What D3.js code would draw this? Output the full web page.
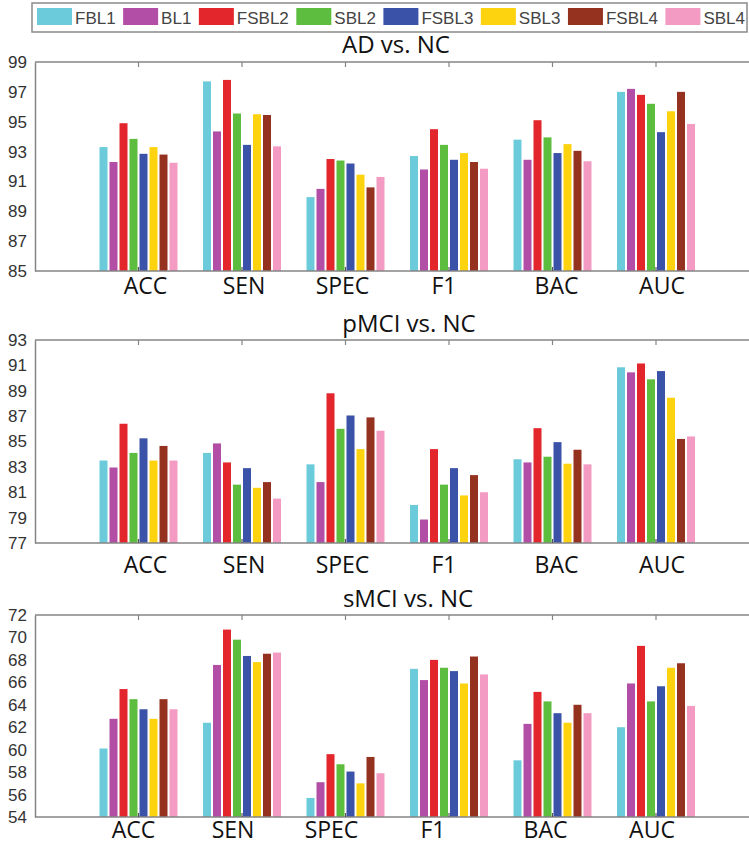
<!DOCTYPE html>
<meta charset="utf-8">
<script src="https://d3js.org/d3.v7.min.js"></script>
<style>
  body { margin: 0; background: #fff; }
  svg { display: block; }
  .ytick text { font-family: "Liberation Sans", Arial, sans-serif; font-size: 17px; fill: #333; }
  .cat { font-family: "Open Sans", sans-serif; font-size: 23px; fill: #111; text-anchor: middle; }
  .title { font-family: "Open Sans", sans-serif; font-size: 24px; fill: #111; text-anchor: middle; }
  .leg text { font-family: "Liberation Sans", Arial, sans-serif; font-size: 17px; fill: #444; }
</style>
<body>
<div id="chart"></div>
<script>
// metrics on the x axis and the eight methods (series)
var metrics = ["ACC", "SEN", "SPEC", "F1", "BAC", "AUC"];
var methods = ["FBL1", "BL1", "FSBL2", "SBL2", "FSBL3", "SBL3", "FSBL4", "SBL4"];
var colours = ["#6ccbdb", "#b24ea6", "#e2262b", "#5dbd3f", "#3a52a8", "#fdd30f", "#95311f", "#f39bc2"];

// values[metric][method]
var adVsNc = [
  [93.3, 92.3, 94.9, 93.85, 92.85, 93.3, 92.8, 92.25],
  [97.7, 94.35, 97.8, 95.55, 93.45, 95.5, 95.45, 93.35],
  [89.95, 90.5, 92.5, 92.4, 92.2, 91.45, 90.6, 91.3],
  [92.7, 91.8, 94.5, 93.45, 92.45, 92.9, 92.3, 91.85],
  [93.8, 92.45, 95.1, 93.95, 92.9, 93.5, 93.05, 92.35],
  [97.0, 97.2, 96.8, 96.2, 94.3, 95.7, 97.0, 94.85]
];
var pmciVsNc = [
  [83.5, 82.95, 86.4, 84.1, 85.25, 83.5, 84.65, 83.5],
  [84.1, 84.85, 83.35, 81.6, 82.9, 81.35, 81.8, 80.5],
  [83.2, 81.8, 88.8, 86.0, 87.05, 84.4, 86.9, 85.85],
  [80.0, 78.85, 84.4, 81.6, 82.9, 80.75, 82.35, 81.0],
  [83.6, 83.35, 86.05, 83.8, 84.95, 83.25, 84.35, 83.2],
  [90.85, 90.45, 91.15, 89.9, 90.55, 88.45, 85.2, 85.4]
];
var smciVsNc = [
  [60.1, 62.75, 65.4, 64.5, 63.6, 62.75, 64.5, 63.6],
  [62.4, 67.55, 70.7, 69.8, 68.35, 67.8, 68.55, 68.65],
  [55.7, 57.1, 59.6, 58.7, 58.05, 57.0, 59.35, 57.9],
  [67.2, 66.2, 68.0, 67.3, 67.0, 65.9, 68.3, 66.7],
  [59.05, 62.3, 65.15, 64.3, 63.25, 62.4, 64.0, 63.25],
  [62.0, 65.9, 69.25, 64.3, 65.65, 67.3, 67.7, 63.9]
];

var panelTitles = ["AD vs. NC", "pMCI vs. NC", "sMCI vs. NC"];
var panelData = [adVsNc, pmciVsNc, smciVsNc];
var yDomains = [[85, 99], [77, 93], [54, 72]];

// layout
var W = 749, H = 845;
var panels = [
  {top: 62, bottom: 271, titleX: 396, titleY: 53, labY: 294, labShift: [7, 2, -3, -5, 4, 6]},
  {top: 340, bottom: 543, titleX: 409, titleY: 332, labY: 573, labShift: [7, 2, -3, -5, 4, 6]},
  {top: 615, bottom: 817, titleX: 408, titleY: 607, labY: 838, labShift: [-5, -9, -14, -16, -7, -4]}
];
var axisCol = "#858585";

var svg = d3.select("#chart").append("svg")
    .attr("width", W)
    .attr("height", H);

// x positions: metrics sit at 1..6 on a 0..7 axis (right end runs off the image)
var x = d3.scaleLinear().domain([0, 7]).range([35, 759.5]);
var xs = d3.scaleBand().domain(methods).range([-40, 40]).paddingInner(0.2).paddingOuter(0.1);

panels.forEach(function(p, pi) {
  var y = d3.scaleLinear().domain(yDomains[pi]).range([p.bottom, p.top]);
  var g = svg.append("g");

  // bars
  var groups = g.selectAll("g.grp")
    .data(panelData[pi])
    .join("g")
      .attr("class", "grp")
      .attr("transform", (d, i) => "translate(" + x(i + 1) + ",0)");

  groups.selectAll("rect")
    .data(d => d.map((v, j) => ({v: v, m: methods[j], c: colours[j]})))
    .join("rect")
      .attr("x", d => xs(d.m))
      .attr("width", xs.bandwidth())
      .attr("y", d => y(d.v))
      .attr("height", d => y(yDomains[pi][0]) - y(d.v))
      .attr("fill", d => d.c);

  // frame lines
  g.append("line").attr("x1", x(0)).attr("x2", W).attr("y1", p.top).attr("y2", p.top)
    .attr("stroke", axisCol).attr("stroke-width", 1.5);
  g.append("line").attr("x1", x(0)).attr("x2", W).attr("y1", p.bottom).attr("y2", p.bottom)
    .attr("stroke", axisCol).attr("stroke-width", 1.5);

  // y axis
  var yTicks = d3.range(yDomains[pi][0], yDomains[pi][1] + 1, 2);
  var ya = g.append("g")
      .attr("transform", "translate(" + x(0) + ",0)")
      .call(d3.axisLeft(y).tickValues(yTicks).tickSize(0).tickPadding(8));
  ya.select(".domain").attr("stroke", axisCol).attr("stroke-width", 1.5);
  ya.selectAll(".tick").attr("class", "ytick");

  // inward category ticks on top and bottom
  var ticks = d3.range(1, 7);
  g.selectAll("line.tt").data(ticks).join("line")
    .attr("class", "tt")
    .attr("x1", d => x(d)).attr("x2", d => x(d))
    .attr("y1", p.top).attr("y2", p.top + 5)
    .attr("stroke", axisCol).attr("stroke-width", 1.2);
  g.selectAll("line.bt").data(ticks).join("line")
    .attr("class", "bt")
    .attr("x1", d => x(d)).attr("x2", d => x(d))
    .attr("y1", p.bottom).attr("y2", p.bottom - 4)
    .attr("stroke", "#555").attr("stroke-width", 1.2);

  // category labels
  g.selectAll("text.cat").data(metrics).join("text")
    .attr("class", "cat")
    .attr("x", (d, i) => x(i + 1) + p.labShift[i])
    .attr("y", p.labY)
    .text(d => d);

  // panel title
  g.append("text").attr("class", "title")
    .attr("x", p.titleX).attr("y", p.titleY)
    .text(panelTitles[pi]);
});

// legend
var leg = svg.append("g").attr("class", "leg");
leg.append("rect")
  .attr("x", 32).attr("y", 3).attr("width", 715).attr("height", 29)
  .attr("fill", "#fff").attr("stroke", "#8a8a8a").attr("stroke-width", 1.5);

var sw = 35, swGap = 3, legLeft = 37, legRight = 745;
var items = leg.selectAll("g.it").data(methods).join("g").attr("class", "it");
items.append("rect")
  .attr("y", 8).attr("width", sw).attr("height", 17)
  .attr("fill", (d, i) => colours[i]);
items.append("text").attr("y", 24).text(d => d);

var widths = [];
items.select("text").each(function() { widths.push(this.getComputedTextLength()); });
var used = d3.sum(widths) + methods.length * (sw + swGap);
var gap = (legRight - legLeft - used) / (methods.length - 1);
var cx = legLeft;
items.each(function(d, i) {
  var it = d3.select(this);
  it.select("rect").attr("x", cx);
  it.select("text").attr("x", cx + sw + swGap);
  cx += sw + swGap + widths[i] + gap;
});
</script>
</body>
